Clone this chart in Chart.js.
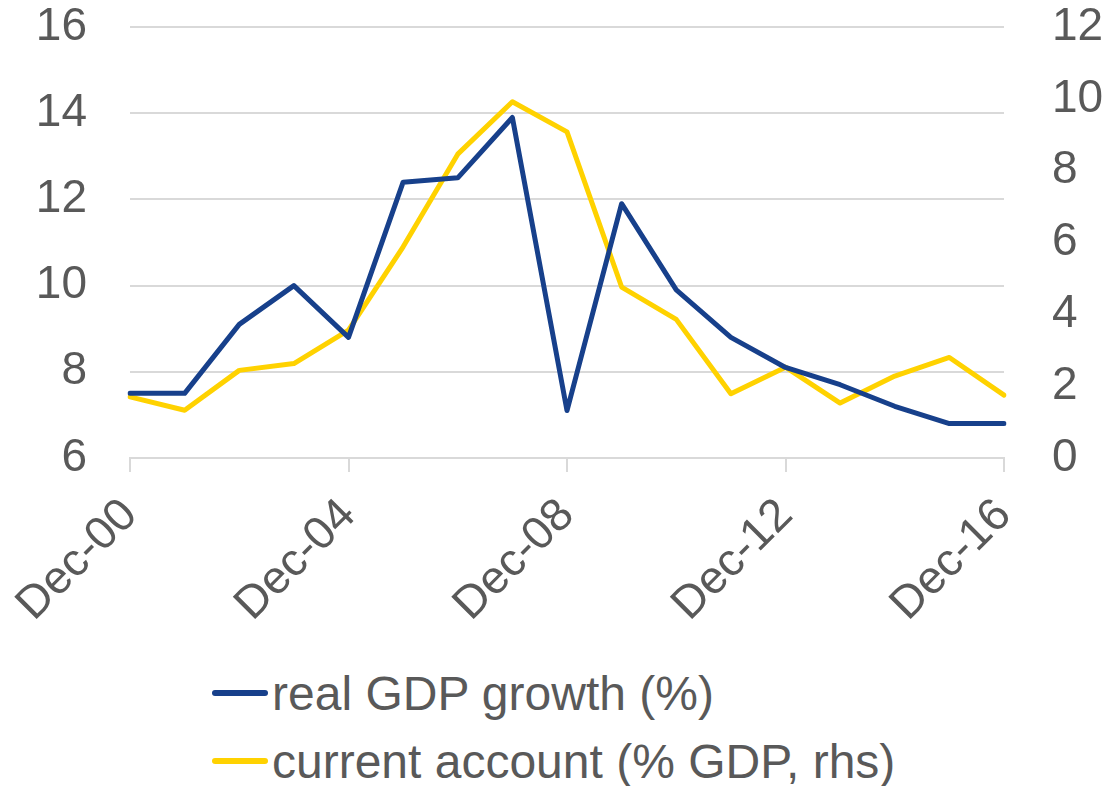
<!DOCTYPE html>
<html>
<head>
<meta charset="utf-8">
<script src="https://cdn.jsdelivr.net/npm/chart.js@4"></script>
<style>
  html, body { margin: 0; padding: 0; background: #ffffff; }
  #wrap { position: relative; width: 1109px; height: 786px; overflow: hidden; }
  #chartBox { position: absolute; left: 0; top: 0; width: 1109px; height: 640px; }
  .leg { position: absolute; left: 212px; height: 60px; display: flex; align-items: center;
         font-family: "Liberation Sans", Arial, sans-serif; font-size: 48px; color: #595959; white-space: nowrap; }
  .sw { width: 56px; height: 6px; border-radius: 3px; margin-right: 4px; }
</style>
</head>
<body>
<div id="wrap">
  <div id="chartBox"><canvas id="c" width="1109" height="640"></canvas></div>
  <div class="leg" style="top:663px;"><span class="sw" style="background:#17408B"></span><span id="l1"></span></div>
  <div class="leg" style="top:731px;"><span class="sw" style="background:#FFD200"></span><span id="l2"></span></div>
</div>
<script>
const categories = ["Dec-00","Dec-01","Dec-02","Dec-03","Dec-04","Dec-05","Dec-06","Dec-07","Dec-08","Dec-09","Dec-10","Dec-11","Dec-12","Dec-13","Dec-14","Dec-15","Dec-16"];
const gdpGrowth = [7.5, 7.5, 9.1, 10.0, 8.8, 12.4, 12.5, 13.9, 7.1, 11.9, 9.9, 8.8, 8.1, 7.7, 7.2, 6.8, 6.8];
const currentAccount = [1.7, 1.33, 2.44, 2.63, 3.56, 5.88, 8.46, 9.92, 9.08, 4.76, 3.86, 1.79, 2.53, 1.53, 2.28, 2.8, 1.75];
const seriesNames = ["real GDP growth (%)", "current account (% GDP, rhs)"];
const leftTicks = { min: 6, max: 16, step: 2 };
const rightTicks = { min: 0, max: 12, step: 2 };

document.getElementById('l1').textContent = seriesNames[0];
document.getElementById('l2').textContent = seriesNames[1];

const tickFont = { family: "'Liberation Sans', Arial, sans-serif", size: 46, lineHeight: 1.1 };
const grey = '#595959';
const gridCol = '#d9d9d9';

new Chart(document.getElementById('c'), {
  type: 'line',
  data: {
    labels: categories,
    datasets: [
      { label: seriesNames[0], data: gdpGrowth, yAxisID: 'y', borderColor: '#17408B', backgroundColor: '#17408B',
        borderWidth: 5, pointRadius: 0, tension: 0, borderJoinStyle: 'round', borderCapStyle: 'round' },
      { label: seriesNames[1], data: currentAccount, yAxisID: 'y1', borderColor: '#FFD200', backgroundColor: '#FFD200',
        borderWidth: 5, pointRadius: 0, tension: 0, borderJoinStyle: 'round', borderCapStyle: 'round' }
    ]
  },
  options: {
    responsive: false,
    animation: false,
    layout: { padding: { top: 27, left: 0, right: 0, bottom: 0 } },
    plugins: { legend: { display: false }, tooltip: { enabled: false } },
    scales: {
      x: {
        offset: false,
        grid: { drawOnChartArea: false, drawTicks: true, tickLength: 14, lineWidth: 2,
                tickColor: (ctx) => (ctx.index % 4 === 0 ? gridCol : 'rgba(0,0,0,0)') },
        border: { display: true, color: gridCol, width: 2 },
        ticks: { autoSkip: false, minRotation: 45, maxRotation: 45, color: grey, font: tickFont, padding: 18,
                 callback: function(v, i) { return i % 4 === 0 ? categories[i] : ''; } },
        afterFit: (s) => { s.height = 640 - 458; }
      },
      y: {
        position: 'left', min: leftTicks.min, max: leftTicks.max,
        grid: { color: gridCol, lineWidth: 2, drawTicks: true, tickLength: 43, tickColor: 'rgba(0,0,0,0)' },
        border: { display: false },
        ticks: { stepSize: leftTicks.step, color: grey, font: tickFont, padding: 0 },
        afterFit: (s) => { s.width = 130; }
      },
      y1: {
        position: 'right', min: rightTicks.min, max: rightTicks.max,
        grid: { drawOnChartArea: false, drawTicks: true, tickLength: 48, tickColor: 'rgba(0,0,0,0)' },
        border: { display: false },
        ticks: { stepSize: rightTicks.step, color: grey, font: tickFont, padding: 0 },
        afterFit: (s) => { s.width = 105; }
      }
    }
  }
});
</script>
</body>
</html>
